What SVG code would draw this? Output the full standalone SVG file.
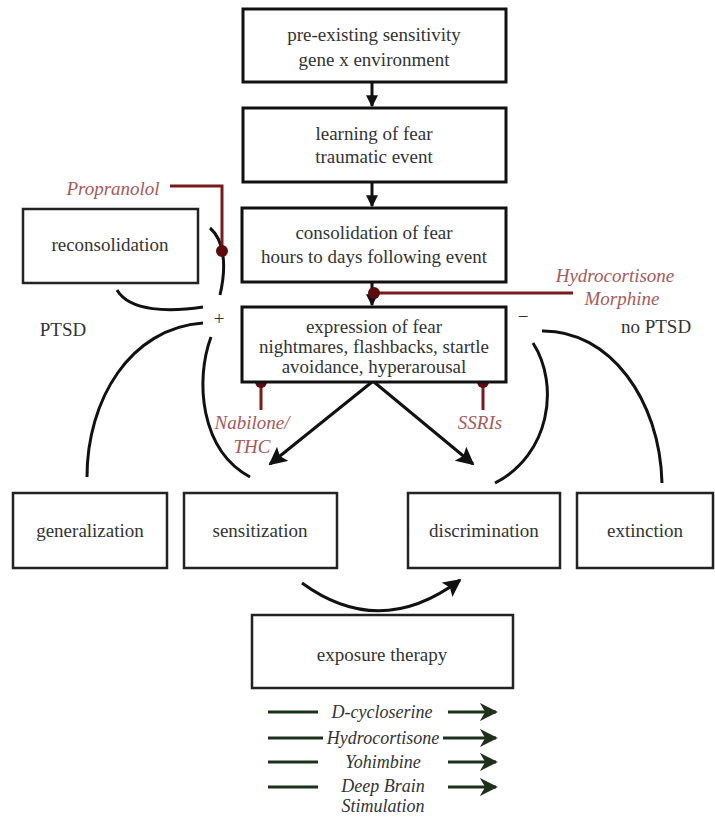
<svg xmlns="http://www.w3.org/2000/svg" width="715" height="817" viewBox="0 0 715 817" font-family="Liberation Serif, Times New Roman, serif">
<defs>
<style>
.box{fill:#fff;stroke:#111;stroke-width:3}
.box2{fill:#fff;stroke:#222;stroke-width:2.5}
.t{font-family:Liberation Serif, Times New Roman, serif;font-size:19px;fill:#333;text-anchor:middle}
.r{font-family:Liberation Serif, Times New Roman, serif;font-size:19px;font-style:italic;fill:#a8595a;text-anchor:middle}
.g{font-family:Liberation Serif, Times New Roman, serif;font-size:18px;font-style:italic;fill:#333;text-anchor:middle}
.c{fill:none;stroke:#111;stroke-width:3}
.rl{fill:none;stroke:#7a1a1c;stroke-width:3}
.dot{fill:#5a0c0e}
.gl{fill:none;stroke:#1c301c;stroke-width:3}
</style>
<marker id="ah" viewBox="0 0 10 10" refX="9" refY="5" markerWidth="6" markerHeight="6" orient="auto" markerUnits="strokeWidth">
<path d="M0,0 L10,5 L0,10 L2,5 z" fill="#111"/>
</marker>
<marker id="ahs" viewBox="0 0 10 10" refX="9" refY="5" markerWidth="4" markerHeight="4" orient="auto" markerUnits="strokeWidth">
<path d="M0,0 L10,5 L0,10 z" fill="#111"/>
</marker>
<marker id="ahg" viewBox="0 0 10 10" refX="9" refY="5" markerWidth="6" markerHeight="6" orient="auto" markerUnits="strokeWidth">
<path d="M0,0 L10,5 L0,10 L3,5 z" fill="#1c301c"/>
</marker>
</defs>
<rect width="715" height="817" fill="#fff"/>

<g id="connectors">
<path class="c" d="M372,82 L372,106" marker-end="url(#ahs)"/>
<path class="c" d="M372,182 L372,206" marker-end="url(#ahs)"/>
<path class="c" d="M372,282 L372,305" marker-end="url(#ahs)"/>
<path class="c" d="M372,382 L270,464" marker-end="url(#ah)"/>
<path class="c" d="M374,382 L473,464" marker-end="url(#ah)"/>
<path class="c" d="M302,583 Q380,640 460,580" marker-end="url(#ah)"/>
<path class="c" d="M210,228 C224,240 227,265 220,295"/>
<path class="c" d="M117,290 C130,312 170,312 203,307"/>
<path class="c" d="M87,477 C87,400 130,328 203,323"/>
<path class="c" d="M211,337 C195,380 200,450 250,477"/>
<path class="c" d="M542,331 C610,330 660,400 662,483"/>
<path class="c" d="M533,343 C560,385 550,455 495,483"/>
<path class="rl" d="M170,186 L222,186 L222,251"/>
<path class="rl" d="M374,293 L573,293"/>
<path class="rl" d="M261,382 L261,410"/>
<path class="rl" d="M483,382 L483,410"/>
<circle class="dot" cx="222" cy="251" r="6"/>
<circle class="dot" cx="374" cy="293" r="6"/>
<circle class="dot" cx="261" cy="382" r="6"/>
<circle class="dot" cx="483" cy="382" r="6"/>
<path class="gl" d="M268,712 L318,712"/>
<path class="gl" d="M448,712 L496,712" marker-end="url(#ahg)"/>
<path class="gl" d="M268,738 L323,738"/>
<path class="gl" d="M443,738 L496,738" marker-end="url(#ahg)"/>
<path class="gl" d="M268,762 L318,762"/>
<path class="gl" d="M448,762 L496,762" marker-end="url(#ahg)"/>
<path class="gl" d="M268,787 L318,787"/>
<path class="gl" d="M448,787 L496,787" marker-end="url(#ahg)"/>
</g>

<g id="n-pre">
<rect class="box" x="243" y="9" width="263" height="73"/>
<text class="t" x="374" y="41">pre-existing sensitivity</text>
<text class="t" x="374" y="66">gene x environment</text>
</g>
<g id="n-learning">
<rect class="box" x="243" y="108" width="263" height="74"/>
<text class="t" x="374" y="140">learning of fear</text>
<text class="t" x="374" y="163">traumatic event</text>
</g>
<g id="n-consolidation">
<rect class="box" x="242" y="208" width="264" height="74"/>
<text class="t" x="374" y="239">consolidation of fear</text>
<text class="t" x="374" y="263">hours to days following event</text>
</g>
<g id="n-expression">
<rect class="box" x="242" y="307" width="264" height="75"/>
<text class="t" x="374" y="333">expression of fear</text>
<text class="t" x="374" y="353">nightmares, flashbacks, startle</text>
<text class="t" x="374" y="373">avoidance, hyperarousal</text>
</g>
<g id="n-reconsolidation">
<rect class="box2" x="23" y="209" width="175" height="74"/>
<text class="t" x="110" y="251">reconsolidation</text>
</g>
<g id="n-generalization">
<rect class="box2" x="13" y="493" width="154" height="75"/>
<text class="t" x="90" y="537">generalization</text>
</g>
<g id="n-sensitization">
<rect class="box2" x="184" y="493" width="153" height="75"/>
<text class="t" x="260" y="537">sensitization</text>
</g>
<g id="n-discrimination">
<rect class="box2" x="408" y="493" width="152" height="75"/>
<text class="t" x="484" y="537">discrimination</text>
</g>
<g id="n-extinction">
<rect class="box2" x="577" y="493" width="136" height="75"/>
<text class="t" x="645" y="537">extinction</text>
</g>
<g id="n-exposure">
<rect class="box2" x="252" y="615" width="261" height="73"/>
<text class="t" x="382" y="661">exposure therapy</text>
</g>

<g id="labels">
<text class="r" x="113" y="195">Propranolol</text>
<text class="r" x="615" y="282">Hydrocortisone</text>
<text class="r" x="622" y="305">Morphine</text>
<text class="r" x="252" y="429">Nabilone/</text>
<text class="r" x="252" y="453">THC</text>
<text class="r" x="480" y="429">SSRIs</text>
<text class="t" x="219" y="325">+</text>
<text class="t" x="523" y="323">−</text>
<text class="t" x="63" y="336">PTSD</text>
<text class="t" x="656" y="333">no PTSD</text>
<text class="g" x="382" y="718">D-cycloserine</text>
<text class="g" x="383" y="744">Hydrocortisone</text>
<text class="g" x="383" y="768">Yohimbine</text>
<text class="g" x="383" y="792">Deep Brain</text>
<text class="g" x="383" y="812">Stimulation</text>
</g>
</svg>
